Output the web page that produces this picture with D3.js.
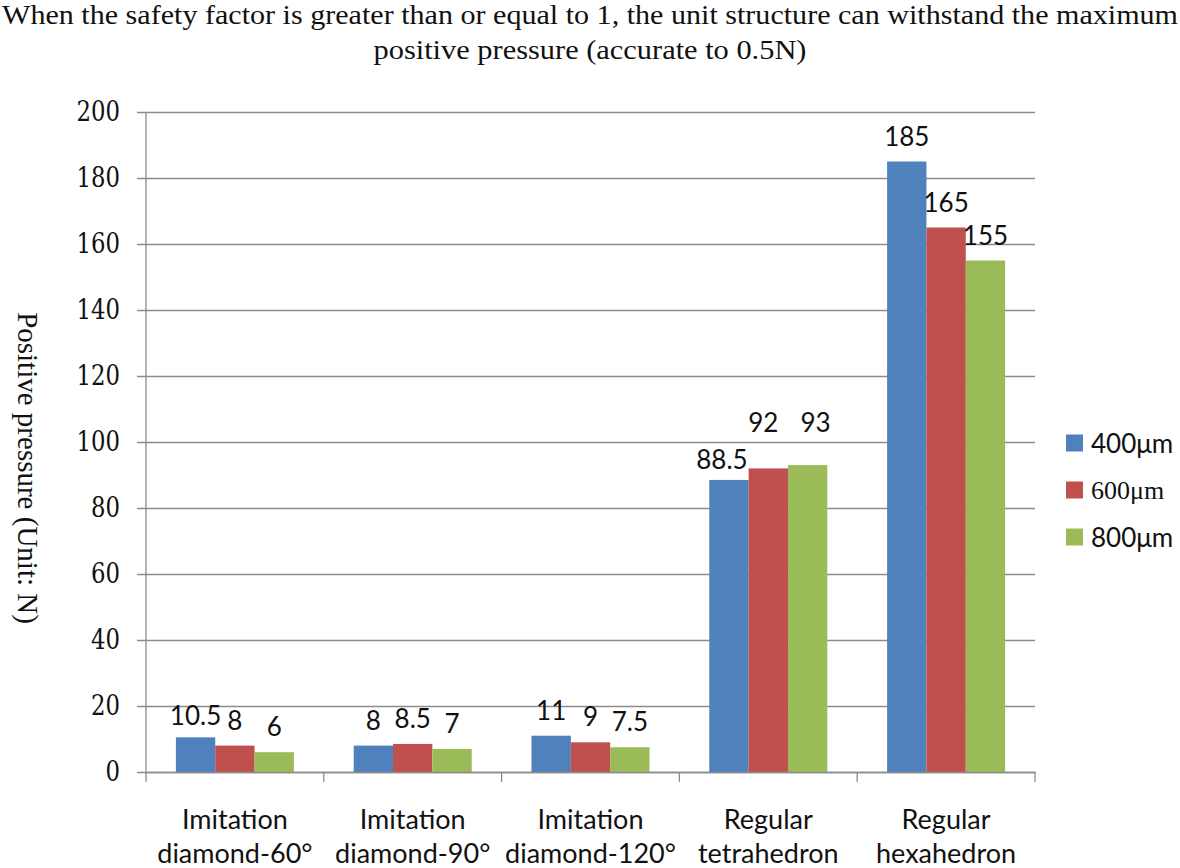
<!DOCTYPE html>
<html>
<head>
<meta charset="utf-8">
<script src="https://cdn.jsdelivr.net/npm/d3@7"></script>
<style>
  html, body { margin: 0; padding: 0; background: #fff; }
  svg { display: block; }
</style>
</head>
<body>
<svg id="chart" width="1180" height="868"></svg>
<script>
// ---- data ----
const categories = [
  ["Imitation", "diamond-60°"],
  ["Imitation", "diamond-90°"],
  ["Imitation", "diamond-120°"],
  ["Regular", "tetrahedron"],
  ["Regular", "hexahedron"]
];
const seriesNames = ["400μm", "600μm", "800μm"];
const values400 = [10.5, 8, 11, 88.5, 185];
const values600 = [8, 8.5, 9, 92, 165];
const values800 = [6, 7, 7.5, 93, 155];
const yTicks = [0, 20, 40, 60, 80, 100, 120, 140, 160, 180, 200];
const titleLines = [
  "When the safety factor is greater than or equal to 1, the unit structure can withstand the maximum",
  "positive pressure (accurate to 0.5N)"
];
const yAxisTitle = "Positive pressure (Unit: N)";

// ---- styles / layout ----
const SERIF = "'Liberation Serif', 'DejaVu Serif', serif";
const SANS = "Lato, 'Open Sans', sans-serif";
const colors = ["#4F81BD", "#C0504D", "#9BBB59"];
const legendFonts = [SANS, SERIF, SANS];
const titleWidths = [1176, 433];
// label nudges (dx, dy) where the original chart moved overlapping labels
const labelNudge = {
  "3-0": [-7, 5], "3-1": [-5, -20], "3-2": [8, -17], "0-0": [0, 4]
};
const plotL = 146, plotR = 1035, plotT = 112, plotB = 772;

const svg = d3.select("#chart");
const series = [values400, values600, values800];
const catKeys = categories.map((c, i) => i);

const x0 = d3.scaleBand().domain(catKeys).range([plotL, plotR]).padding(0);
const x1 = d3.scaleBand().domain(d3.range(seriesNames.length)).range([0, x0.bandwidth()]).paddingInner(0).paddingOuter(0.76);
const y = d3.scaleLinear().domain([0, 200]).range([plotB, plotT]);

// title
svg.selectAll("text.title").data(titleLines).join("text")
  .attr("class", "title")
  .attr("x", 590).attr("y", (d, i) => 24 + i * 35)
  .attr("text-anchor", "middle")
  .style("font-family", SERIF)
  .style("font-size", "28px")
  .attr("fill", "#111")
  .attr("textLength", (d, i) => titleWidths[i])
  .attr("lengthAdjust", "spacingAndGlyphs")
  .text(d => d);

// gridlines + y axis
const yAxis = d3.axisLeft(y).tickValues(yTicks).tickSize(-(plotR - plotL)).tickPadding(20).tickFormat(d3.format("d"));
const gy = svg.append("g").attr("transform", `translate(${plotL},0)`).call(yAxis);
gy.attr("font-family", null).attr("font-size", null);
gy.select(".domain").remove();
gy.selectAll(".tick line").attr("stroke", "#8c8c8c").attr("stroke-width", 1.3).attr("x1", -9);
gy.selectAll(".tick text")
  .style("font-family", "'DejaVu Serif', serif")
  .style("font-size", "27px").attr("fill", "#111").attr("x", -26)
  .attr("textLength", d => String(d).length * 14.5)
  .attr("lengthAdjust", "spacingAndGlyphs");

// y axis line
svg.append("line").attr("x1", plotL).attr("x2", plotL).attr("y1", plotT).attr("y2", plotB)
  .attr("stroke", "#8c8c8c").attr("stroke-width", 1.3);

// bars
const groups = svg.append("g").selectAll("g").data(catKeys).join("g")
  .attr("transform", d => `translate(${x0(d)},0)`);
groups.selectAll("rect").data(ci => series.map((s, si) => ({ ci, si, v: s[ci] }))).join("rect")
  .attr("x", d => x1(d.si)).attr("width", x1.bandwidth())
  .attr("y", d => y(d.v)).attr("height", d => y(0) - y(d.v))
  .attr("fill", d => colors[d.si]);

// data labels
groups.selectAll("text.val").data(ci => series.map((s, si) => ({ ci, si, v: s[ci] }))).join("text")
  .attr("class", "val")
  .attr("x", d => x1(d.si) + x1.bandwidth() / 2 + ((labelNudge[d.ci + "-" + d.si] || [0, 0])[0]))
  .attr("y", d => y(d.v) - 16 + ((labelNudge[d.ci + "-" + d.si] || [0, 0])[1]))
  .attr("text-anchor", "middle")
  .style("font-family", SANS)
  .style("font-size", "26px").attr("fill", "#111")
  .text(d => d.v);

// x axis
const xAxis = d3.axisBottom(x0).tickSize(0).tickFormat("");
const gx = svg.append("g").attr("transform", `translate(0,${plotB})`).call(xAxis);
gx.select(".domain").attr("stroke", "#8c8c8c").attr("stroke-width", 1.3);
gx.selectAll(".tick").remove();
// category boundary ticks
svg.append("g").selectAll("line").data(d3.range(categories.length + 1)).join("line")
  .attr("x1", i => i < categories.length ? x0(i) : x0(categories.length - 1) + x0.bandwidth())
  .attr("x2", i => i < categories.length ? x0(i) : x0(categories.length - 1) + x0.bandwidth())
  .attr("y1", plotB).attr("y2", plotB + 10)
  .attr("stroke", "#8c8c8c").attr("stroke-width", 1.3);

// category labels
const catLabels = svg.append("g").selectAll("text").data(catKeys).join("text")
  .attr("text-anchor", "middle")
  .style("font-family", SANS)
  .style("font-size", "27px").attr("fill", "#111");
catLabels.selectAll("tspan").data(ci => categories[ci].map(t => ({ ci, t }))).join("tspan")
  .attr("x", d => x0(d.ci) + x0.bandwidth() / 2)
  .attr("y", (d, i) => 829 + i * 34)
  .text(d => d.t);

// y axis title
svg.append("text")
  .attr("transform", "translate(28,468) rotate(90)")
  .attr("text-anchor", "middle")
  .attr("dominant-baseline", "central")
  .style("font-family", SERIF)
  .style("font-size", "29px").attr("fill", "#111")
  .text(yAxisTitle);

// legend
const legend = svg.append("g").selectAll("g").data(seriesNames).join("g")
  .attr("transform", (d, i) => `translate(1066,${443 + i * 47})`);
legend.append("rect").attr("x", 0).attr("y", -8.5).attr("width", 17).attr("height", 17)
  .attr("fill", (d, i) => colors[i]);
legend.append("text").attr("x", 25).attr("y", 0).attr("dominant-baseline", "central")
  .style("font-family", (d, i) => legendFonts[i])
  .style("font-size", "26px").attr("fill", "#111")
  .text(d => d);
</script>
</body>
</html>
